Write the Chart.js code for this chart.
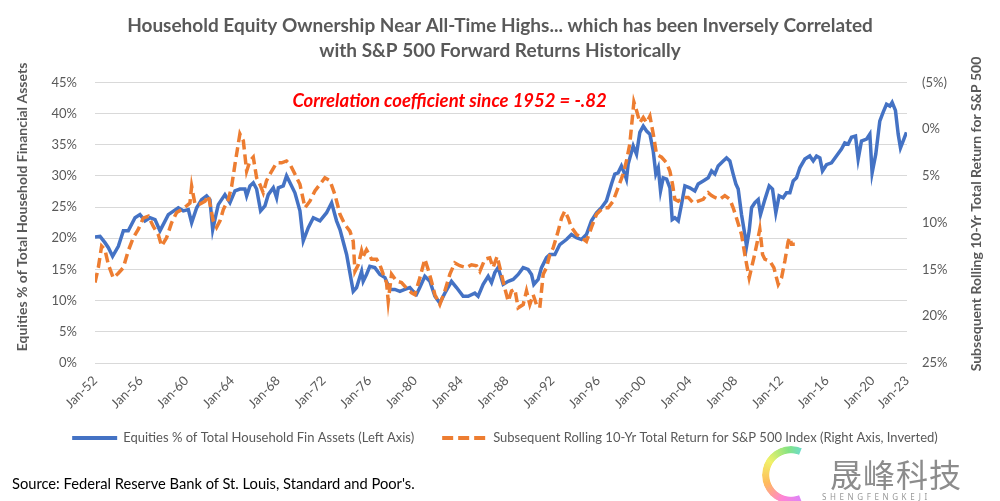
<!DOCTYPE html>
<html>
<head>
<meta charset="utf-8">
<script src="https://cdn.jsdelivr.net/npm/chart.js@4.4.0/dist/chart.umd.min.js"></script>
<style>
  html, body { margin: 0; padding: 0; background: #fff; }
  #wrap { position: relative; width: 1000px; height: 501px; overflow: hidden; }
  #source { position: absolute; left: 12px; top: 474px; font: 14.7px Lato, sans-serif; color: #000; white-space: nowrap; }
  #logo { position: absolute; left: 762px; top: 446px; width: 58px; height: 58px; border-radius: 50%;
          background: conic-gradient(from 200deg, #f6c, #fa3, #ee4, #6d6, #3cf, #66f, #c6f, #f6c);
          -webkit-mask: radial-gradient(circle, transparent 52%, #000 54%);
          clip-path: polygon(0 0, 70% 0, 50% 50%, 70% 100%, 0 100%); opacity: 0.8; }
  #mark { position: absolute; left: 830px; top: 450px; font: 32px "Noto Sans CJK SC", sans-serif; color: #8c8c8c; letter-spacing: 1px; }
  #mark2 { position: absolute; left: 822px; top: 491px; font: 8px "Noto Sans", sans-serif; color: #999; letter-spacing: 3.6px; }
</style>
</head>
<body>
<div id="wrap">
  <canvas id="chart" width="1000" height="501"></canvas>
  <div id="source">Source: Federal Reserve Bank of St. Louis, Standard and Poor's.</div>
  <div id="logo"></div>
  <div id="mark">晟峰科技</div>
  <div id="mark2">SHENGFENGKEJI</div>
</div>
<script>
// Equities % of household financial assets (left axis)
const equityYears = [
  1952.0, 1952.44, 1952.87, 1953.17, 1953.54, 1954.04, 1954.48, 1954.91, 1955.5, 1955.93,
  1956.37, 1956.81, 1957.25, 1957.68, 1958.41, 1959.28, 1959.72, 1960.16, 1960.45, 1960.89,
  1961.32, 1961.76, 1962.05, 1962.29, 1962.58, 1962.78, 1963.36, 1963.8, 1964.24, 1964.67,
  1965.11, 1965.26, 1965.55, 1965.84, 1966.13, 1966.48, 1966.86, 1967.15, 1967.59, 1967.88,
  1968.03, 1968.46, 1968.75, 1969.05, 1969.48, 1969.92, 1970.21, 1970.65, 1971.09, 1971.67,
  1972.25, 1972.69, 1973.12, 1973.42, 1974.0, 1974.58, 1974.87, 1975.31, 1975.45, 1975.74,
  1976.03, 1976.47, 1976.91, 1977.35, 1977.78, 1978.22, 1978.66, 1979.09, 1979.53, 1979.82,
  1980.11, 1980.4, 1980.84, 1981.28, 1981.72, 1982.15, 1982.59, 1983.17, 1983.61, 1984.19,
  1984.63, 1985.21, 1985.5, 1985.94, 1986.38, 1986.67, 1986.96, 1987.25, 1987.69, 1988.13,
  1988.56, 1989.0, 1989.44, 1989.87, 1990.17, 1990.37, 1990.75, 1991.04, 1991.48, 1991.77,
  1992.21, 1992.64, 1993.22, 1993.66, 1994.1, 1994.54, 1994.97, 1995.41, 1995.85, 1996.28,
  1996.72, 1997.16, 1997.45, 1997.74, 1998.03, 1998.32, 1998.47, 1998.62, 1998.77, 1999.06,
  1999.35, 1999.64, 1999.94, 2000.23, 2000.52, 2000.81, 2001.04, 2001.25, 2001.45, 2001.68,
  2001.98, 2002.27, 2002.47, 2002.7, 2003.0, 2003.29, 2003.58, 2004.01, 2004.45, 2004.74,
  2005.18, 2005.62, 2005.91, 2006.2, 2006.49, 2006.93, 2007.22, 2007.51, 2007.8, 2008.04,
  2008.24, 2008.53, 2008.82, 2008.97, 2009.2, 2009.41, 2009.7, 2009.99, 2010.19, 2010.57,
  2010.95, 2011.24, 2011.53, 2011.82, 2012.17, 2012.46, 2012.76, 2013.05, 2013.34, 2013.63,
  2014.07, 2014.5, 2014.8, 2015.09, 2015.38, 2015.61, 2015.96, 2016.4, 2016.83, 2017.27,
  2017.56, 2017.86, 2018.15, 2018.5, 2018.73, 2019.02, 2019.46, 2019.75, 2019.95, 2020.27,
  2020.62, 2020.91, 2021.21, 2021.5, 2021.7, 2021.99, 2022.23, 2022.43, 2022.66, 2022.95
];
const equityPct = [
  20.2, 20.3, 19.3, 18.5, 17.1, 18.7, 21.2, 21.2, 23.3, 23.8,
  22.8, 23.3, 23.0, 21.2, 23.8, 24.9, 24.4, 24.6, 22.5, 24.9,
  26.2, 26.8, 26.2, 21.4, 23.8, 25.4, 27.0, 25.7, 27.6, 27.9,
  27.9, 26.8, 28.4, 28.9, 27.9, 24.4, 25.2, 27.0, 28.1, 26.5,
  28.1, 28.4, 30.0, 28.9, 27.3, 24.4, 19.6, 21.7, 23.3, 22.8,
  24.1, 25.7, 22.8, 21.4, 17.4, 11.5, 12.1, 14.7, 13.1, 14.2,
  15.5, 15.3, 14.2, 13.7, 11.8, 11.8, 11.5, 11.8, 12.1, 11.5,
  11.0, 12.1, 13.9, 13.1, 10.7, 9.6, 11.2, 13.1, 12.1, 10.7,
  10.7, 11.2, 10.7, 12.6, 13.9, 12.9, 14.5, 15.3, 12.6, 13.1,
  13.4, 14.2, 15.3, 15.0, 14.2, 12.6, 13.4, 15.3, 16.9, 17.4,
  17.4, 19.0, 19.8, 20.6, 20.1, 19.8, 20.6, 22.8, 24.1, 24.9,
  26.0, 28.7, 30.3, 30.5, 31.6, 30.3, 29.5, 31.9, 32.9, 34.8,
  33.5, 37.0, 38.0, 37.2, 36.7, 34.0, 30.3, 31.3, 27.6, 29.7,
  29.5, 28.1, 23.0, 23.3, 22.8, 25.5, 28.4, 28.1, 27.6, 28.7,
  29.2, 29.7, 30.8, 30.3, 31.6, 32.4, 32.9, 32.4, 30.3, 28.7,
  27.9, 23.8, 20.6, 18.7, 21.2, 24.9, 25.7, 26.2, 23.8, 26.2,
  28.4, 27.9, 24.1, 26.8, 26.5, 27.3, 27.3, 29.2, 29.7, 31.3,
  32.7, 33.2, 32.4, 33.2, 32.9, 30.8, 31.8, 32.1, 33.2, 34.3,
  35.3, 35.1, 36.2, 36.4, 32.7, 35.6, 35.9, 36.7, 30.5, 33.5,
  38.8, 40.2, 41.5, 41.2, 41.8, 40.5, 36.7, 34.5, 35.6, 37.0
];

// Subsequent rolling 10-yr total return for S&P 500 (right axis, inverted)
const returnYears = [
  1952.0, 1952.29, 1952.58, 1952.87, 1953.17, 1953.6, 1954.04, 1954.48, 1954.91, 1955.35,
  1955.79, 1956.22, 1956.66, 1957.1, 1957.54, 1957.83, 1958.26, 1958.7, 1959.14, 1959.58,
  1960.01, 1960.3, 1960.45, 1960.74, 1961.18, 1961.62, 1961.91, 1962.34, 1962.63, 1962.93,
  1963.22, 1963.66, 1963.95, 1964.24, 1964.67, 1964.97, 1965.26, 1965.55, 1965.84, 1966.13,
  1966.42, 1966.71, 1967.0, 1967.44, 1967.88, 1968.32, 1968.75, 1969.05, 1969.48, 1969.92,
  1970.36, 1970.79, 1971.23, 1971.67, 1972.1, 1972.54, 1972.98, 1973.42, 1973.85, 1974.29,
  1974.58, 1974.73, 1975.02, 1975.31, 1975.45, 1975.74, 1976.18, 1976.62, 1976.91, 1977.2,
  1977.49, 1977.64, 1977.93, 1978.37, 1978.8, 1979.24, 1979.68, 1979.97, 1980.4, 1980.84,
  1981.13, 1981.42, 1981.72, 1982.15, 1982.59, 1983.03, 1983.46, 1983.9, 1984.48, 1984.92,
  1985.36, 1985.65, 1986.09, 1986.52, 1986.81, 1987.16, 1987.54, 1987.83, 1988.13, 1988.42,
  1988.71, 1989.0, 1989.44, 1989.73, 1990.02, 1990.31, 1990.6, 1990.89, 1991.19, 1991.48,
  1991.77, 1992.06, 1992.5, 1992.79, 1993.08, 1993.37, 1993.66, 1994.1, 1994.54, 1994.97,
  1995.41, 1995.85, 1996.43, 1996.87, 1997.3, 1997.74, 1998.18, 1998.47, 1998.76, 1999.05,
  1999.12, 1999.35, 1999.64, 1999.94, 2000.23, 2000.52, 2000.81, 2001.1, 2001.54, 2001.98,
  2002.27, 2002.5, 2002.7, 2003.0, 2003.43, 2003.87, 2004.31, 2004.74, 2005.18, 2005.62,
  2005.91, 2006.2, 2006.64, 2007.07, 2007.51, 2007.8, 2008.09, 2008.53, 2008.82, 2009.03,
  2009.2, 2009.41, 2009.61, 2009.9, 2010.13, 2010.28, 2010.37, 2010.57, 2011.01, 2011.36,
  2011.59, 2011.74, 2012.03, 2012.32, 2012.61, 2012.76, 2012.9, 2013.19
];
const returnPct = [
  16.4, 14.8, 12.5, 12.9, 14.5, 15.9, 15.4, 14.8, 13.0, 11.6,
  10.7, 9.5, 9.3, 10.4, 11.3, 12.5, 11.6, 10.0, 8.9, 8.6,
  8.2, 7.9, 6.1, 8.0, 8.0, 7.7, 7.1, 9.8, 10.5, 9.8,
  8.6, 7.5, 6.1, 3.75, 0.5, 1.25, 4.5, 3.4, 3.0, 5.2,
  5.9, 6.8, 5.5, 4.5, 3.6, 3.6, 3.4, 3.75, 4.8, 5.9,
  8.4, 7.7, 6.6, 5.9, 5.2, 5.5, 7.0, 9.1, 10.2, 10.9,
  12.0, 15.2, 14.5, 13.0, 13.6, 12.9, 13.9, 13.9, 14.5, 15.5,
  16.4, 18.4, 15.5, 16.25, 16.4, 17.0, 17.5, 17.7, 15.9, 13.9,
  15.0, 16.25, 17.7, 18.75, 17.3, 15.5, 14.3, 14.6, 14.8, 14.5,
  14.6, 15.2, 13.9, 13.75, 14.8, 13.6, 15.5, 17.0, 18.4, 17.3,
  17.1, 19.1, 18.75, 17.3, 18.75, 17.7, 18.75, 19.1, 15.5, 14.8,
  13.4, 12.7, 10.9, 9.5, 8.75, 9.5, 10.5, 11.25, 11.6, 12.0,
  10.5, 9.1, 8.4, 8.4, 7.7, 6.25, 4.8, 3.4, 1.6, -2.0,
  -2.9, -2.0, -0.7, -1.25, -0.7, -1.4, 0.5, 2.7, 3.0, 3.6,
  4.5, 5.9, 7.5, 7.7, 7.3, 7.3, 7.9, 7.7, 7.5, 6.8,
  7.1, 7.3, 7.5, 7.1, 7.5, 8.4, 9.5, 11.25, 13.4, 14.8,
  15.9, 14.8, 13.75, 12.1, 10.7, 12.3, 13.4, 13.9, 14.1, 14.8,
  15.9, 16.6, 15.9, 14.1, 12.0, 11.6, 12.3, 12.3
];

// Axis ticks
const xTickYears = [1952, 1956, 1960, 1964, 1968, 1972, 1976, 1980, 1984, 1988, 1992, 1996, 2000, 2004, 2008, 2012, 2016, 2020, 2023];
const xTickLabels = ['Jan-52', 'Jan-56', 'Jan-60', 'Jan-64', 'Jan-68', 'Jan-72', 'Jan-76', 'Jan-80', 'Jan-84', 'Jan-88',
  'Jan-92', 'Jan-96', 'Jan-00', 'Jan-04', 'Jan-08', 'Jan-12', 'Jan-16', 'Jan-20', 'Jan-23'];

const titleLines = ['Household Equity Ownership Near All-Time Highs... which has been Inversely Correlated',
  'with S&P 500 Forward Returns Historically'];
const seriesNames = ['Equities % of Total Household Fin Assets (Left Axis)',
  'Subsequent Rolling 10-Yr Total Return for S&P 500 Index (Right Axis, Inverted)'];
const leftTitle = 'Equities % of Total Household Financial Assets';
const rightTitle = 'Subsequent Rolling 10-Yr Total Return for S&P 500';
const noteText = 'Correlation coefficient since 1952 = -.82';

const FONT = 'Lato, sans-serif';
const GREY = '#595959';

// Draw axis titles, the red note and the legend
const extraText = {
  id: 'extraText',
  afterDraw(chart) {
    const ctx = chart.ctx;
    ctx.save();
    ctx.fillStyle = GREY;
    ctx.font = 'bold 14px ' + FONT;
    ctx.textAlign = 'center';
    ctx.textBaseline = 'middle';

    ctx.save();
    ctx.translate(22, 207);
    ctx.rotate(-Math.PI / 2);
    ctx.fillText(leftTitle, 0, 0);
    ctx.restore();

    ctx.save();
    ctx.translate(976, 214);
    ctx.rotate(-Math.PI / 2);
    ctx.fillText(rightTitle, 0, 0);
    ctx.restore();

    const xs = chart.scales.x, ys = chart.scales.yLeft;
    ctx.fillStyle = '#ff0000';
    ctx.font = 'italic bold 18.5px ' + FONT;
    ctx.fillText(noteText, xs.getPixelForValue(1983), ys.getPixelForValue(42));

    // legend
    ctx.font = '13px ' + FONT;
    ctx.textAlign = 'left';
    const sample = 45, gap = 6, between = 28;
    const widths = seriesNames.map(s => ctx.measureText(s).width);
    const total = widths.reduce((a, w) => a + sample + gap + w, 0) + between;
    let lx = 505 - total / 2;
    const ly = 438;
    chart.data.datasets.forEach((ds, i) => {
      ctx.beginPath();
      ctx.strokeStyle = ds.borderColor;
      ctx.lineWidth = 4;
      ctx.setLineDash(ds.borderDash ? [11, 5] : []);
      ctx.moveTo(lx, ly);
      ctx.lineTo(lx + sample, ly);
      ctx.stroke();
      ctx.setLineDash([]);
      ctx.fillStyle = GREY;
      ctx.fillText(seriesNames[i], lx + sample + gap, ly);
      lx += sample + gap + widths[i] + between;
    });
    ctx.restore();
  }
};

const ctx = document.getElementById('chart').getContext('2d');

new Chart(ctx, {
  type: 'line',
  data: {
    datasets: [
      {
        label: seriesNames[0],
        data: equityYears.map((yr, i) => ({ x: yr, y: equityPct[i] })),
        yAxisID: 'yLeft',
        borderColor: '#4472c4',
        borderWidth: 3.5,
        pointRadius: 0,
        tension: 0,
        order: 2
      },
      {
        label: seriesNames[1],
        data: returnYears.map((yr, i) => ({ x: yr, y: returnPct[i] })),
        yAxisID: 'yRight',
        borderColor: '#ed7d31',
        borderWidth: 3.5,
        borderDash: [10, 5],
        pointRadius: 0,
        tension: 0,
        order: 1
      }
    ]
  },
  options: {
    responsive: false,
    animation: false,
    events: [],
    layout: { padding: { top: 0, bottom: 83, left: 0, right: 0 } },
    plugins: {
      tooltip: { enabled: false },
      legend: { display: false },
      title: {
        display: true,
        text: titleLines,
        color: GREY,
        font: { family: FONT, size: 19, weight: 'bold', lineHeight: 1.3 },
        padding: { top: 14, bottom: 19 }
      }
    },
    scales: {
      x: {
        type: 'linear',
        min: 1952,
        max: 2023,
        grid: { display: false },
        border: { display: false },
        afterBuildTicks: (scale) => { scale.ticks = xTickYears.map(v => ({ value: v })); },
        afterFit: (scale) => { scale.height = 55; },
        ticks: {
          autoSkip: false,
          maxRotation: 45,
          minRotation: 45,
          padding: 2,
          color: GREY,
          font: { family: FONT, size: 13 },
          callback: (v) => xTickLabels[xTickYears.indexOf(v)]
        }
      },
      yLeft: {
        position: 'left',
        min: 0,
        max: 45,
        grid: { color: '#d9d9d9', lineWidth: 1, drawTicks: false },
        border: { display: false },
        afterFit: (scale) => { scale.width = 95; },
        ticks: {
          stepSize: 5,
          padding: 18,
          color: GREY,
          font: { family: FONT, size: 13 },
          callback: (v) => v + '%'
        }
      },
      yRight: {
        position: 'right',
        min: -5,
        max: 25,
        reverse: true,
        grid: { display: false, drawTicks: false },
        border: { display: false },
        afterFit: (scale) => { scale.width = 93; },
        ticks: {
          stepSize: 5,
          padding: 15,
          color: GREY,
          font: { family: FONT, size: 13 },
          callback: (v) => v < 0 ? '(' + (-v) + '%)' : v + '%'
        }
      }
    }
  },
  plugins: [extraText]
});
</script>
</body>
</html>
